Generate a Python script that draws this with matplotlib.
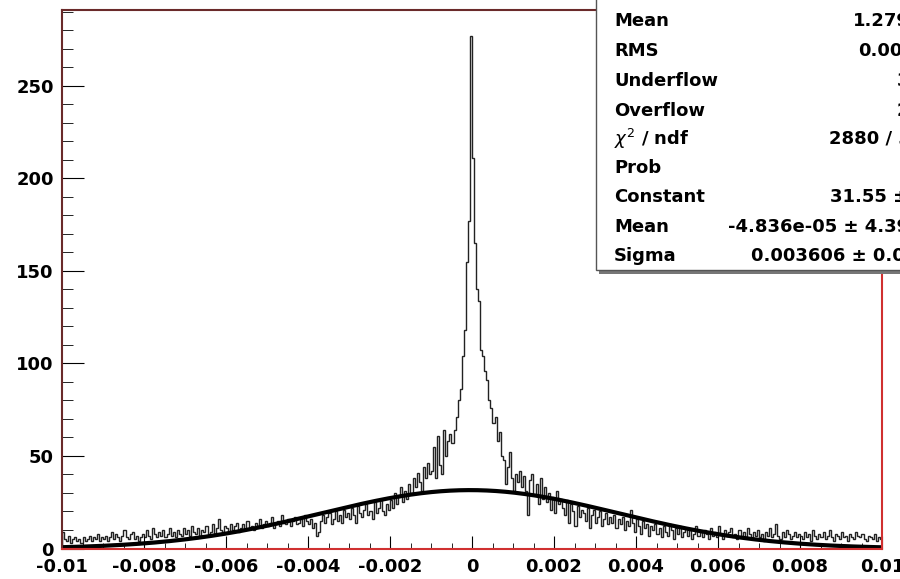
import numpy as np
import matplotlib.pyplot as plt
from matplotlib.patches import Rectangle

# histogram contents, 400 bins from -0.01 to 0.01
counts_left = [
    9, 5, 4, 7, 3, 5, 6, 4, 5, 3, 6, 4, 5, 7, 4, 6, 5, 8, 4, 6,
    5, 7, 4, 6, 9, 5, 8, 6, 4, 7, 10, 6, 5, 8, 9, 5, 7, 4, 6, 8,
    6, 10, 7, 5, 11, 8, 6, 9, 7, 10, 6, 8, 11, 7, 9, 6, 10, 8, 7, 11,
    8, 10, 7, 12, 9, 8, 11, 7, 10, 9, 12, 8, 9, 13, 8, 11, 16, 10, 9, 12,
    11, 9, 13, 10, 12, 14, 9, 11, 13, 10, 15, 11, 12, 10, 14, 12, 16, 11, 13, 15,
    12, 14, 17, 11, 13, 15, 12, 18, 14, 13, 16, 12, 15, 17, 13, 14, 16, 12, 18, 15,
    13, 16, 11, 14, 7, 9, 15, 18, 14, 17, 19, 13, 16, 20, 15, 18, 14, 21, 17, 19,
    16, 22, 18, 14, 23, 19, 17, 21, 24, 18, 20, 16, 25, 19, 22, 27, 20, 18, 24, 21,
    26, 22, 30, 24, 28, 33, 25, 31, 27, 35, 30, 38, 33, 41, 36, 31, 44, 38, 46, 40,
    42, 55, 38, 61, 45, 40, 64, 50, 58, 62, 57, 64, 71, 80, 86, 104, 118, 155, 177, 277,
]
counts_right = [
    211, 165, 140, 134, 107, 104, 96, 91, 80, 76, 68, 71, 58, 63, 50, 48, 35, 44, 52, 38,
    31, 40, 36, 42, 33, 39, 31, 18, 37, 40, 29, 35, 24, 38, 27, 33, 25, 30, 21, 28,
    19, 31, 24, 27, 22, 18, 26, 14, 24, 20, 12, 23, 17, 21, 19, 15, 22, 11, 18, 21,
    14, 17, 20, 12, 16, 19, 13, 17, 14, 18, 11, 16, 13, 17, 10, 15, 12, 21, 14, 9,
    16, 12, 8, 15, 11, 13, 7, 12, 10, 13, 8, 11, 6, 12, 9, 7, 13, 10, 5, 11,
    8, 12, 6, 9, 11, 7, 10, 5, 8, 12, 7, 9, 6, 10, 8, 5, 11, 7, 9, 6,
    12, 8, 5, 10, 7, 9, 11, 6, 8, 5, 10, 7, 9, 6, 11, 8, 5, 9, 7, 10,
    6, 8, 4, 9, 7, 11, 6, 8, 13, 7, 5, 9, 6, 10, 8, 5, 7, 9, 6, 8,
    7, 5, 9, 6, 8, 4, 10, 7, 5, 8, 6, 9, 5, 7, 10, 6, 4, 8, 7, 5,
    9, 6, 7, 4, 8, 6, 5, 9, 7, 6, 8, 5, 4, 7, 6, 5, 8, 4, 6, 5,
]
x_min, x_max = -0.01, 0.01

# gaussian fit parameters from the stats box
fit_const = 31.55
fit_mean = -4.836e-05
fit_sigma = 0.003606

x_ticks = [-0.01, -0.008, -0.006, -0.004, -0.002, 0, 0.002, 0.004, 0.006, 0.008, 0.01]
x_labels = ["-0.01", "-0.008", "-0.006", "-0.004", "-0.002", "0",
            "0.002", "0.004", "0.006", "0.008", "0.01"]
y_ticks = [0, 50, 100, 150, 200, 250]

stat_names = ["Mean", "RMS", "Underflow", "Overflow", r"$\chi^2$ / ndf", "Prob",
              "Constant", "Mean", "Sigma"]
stat_values = ["1.279e-05", "0.003712", "3", "2", "2880 / 393", "0",
               "31.55 \u00b1 0.97", "-4.836e-05 \u00b1 4.395e-05", "0.003606 \u00b1 0.000036"]
stat_value_x = [853, 858, 897, 897, 829, 905, 830, 728, 751]

counts = np.array(counts_left + counts_right)
edges = np.linspace(x_min, x_max, len(counts) + 1)

W, H = 900, 579
fig = plt.figure(figsize=(W / 100, H / 100), dpi=100)
ax = fig.add_axes([62 / W, 1 - 548.5 / H, 820 / W, 538.5 / H])

ax.stairs(counts, edges, baseline=0, color="#222222", lw=1)
xf = np.linspace(x_min, x_max, 800)
yf = fit_const * np.exp(-0.5 * ((xf - fit_mean) / fit_sigma) ** 2)
ax.plot(xf, yf, color="black", lw=3)

ax.set_xlim(x_min, x_max)
ax.set_ylim(0, 291)
ax.set_xticks(x_ticks)
ax.set_xticklabels(x_labels)
ax.set_yticks(y_ticks)
ax.set_xticks(np.arange(-0.01, 0.01001, 0.0005), minor=True)
ax.set_yticks(np.arange(0, 291, 10), minor=True)

ax.tick_params(axis="both", which="both", direction="in", top=False, right=False,
               labelsize=13, color="black")
ax.tick_params(axis="y", which="major", length=16, pad=6)
ax.tick_params(axis="y", which="minor", length=8)
ax.tick_params(axis="x", which="major", length=9.5, pad=7)
ax.tick_params(axis="x", which="minor", length=4)
for lab in ax.get_xticklabels() + ax.get_yticklabels():
    lab.set_fontweight("bold")

for side in ["bottom", "right"]:
    ax.spines[side].set_color("#d03030")
for side in ["left", "top"]:
    ax.spines[side].set_color("#6a2a2a")
for s in ax.spines.values():
    s.set_linewidth(1.5)

# stats box (ROOT style), partly outside the canvas
def fx(px):
    return px / W

def fy(py):
    return 1 - py / H

shadow = Rectangle((fx(599), fy(274)), 0.5, 0.6, transform=fig.transFigure,
                   facecolor="#777777", edgecolor="none", zorder=5)
box = Rectangle((fx(596), fy(270)), 0.5, 0.6, transform=fig.transFigure,
                facecolor="white", edgecolor="#555555", lw=1, zorder=6)
fig.add_artist(shadow)
fig.add_artist(box)

row_y = [21.5, 51, 80.5, 110.5, 138.5, 168, 197.5, 227, 256]
for name, val, vx, ry in zip(stat_names, stat_values, stat_value_x, row_y):
    fig.text(fx(614), fy(ry), name, fontsize=13, fontweight="bold",
             va="center", ha="left", zorder=7)
    fig.text(fx(vx), fy(ry), val, fontsize=13, fontweight="bold",
             va="center", ha="left", zorder=7)

fig.savefig("out.png", dpi=100)
